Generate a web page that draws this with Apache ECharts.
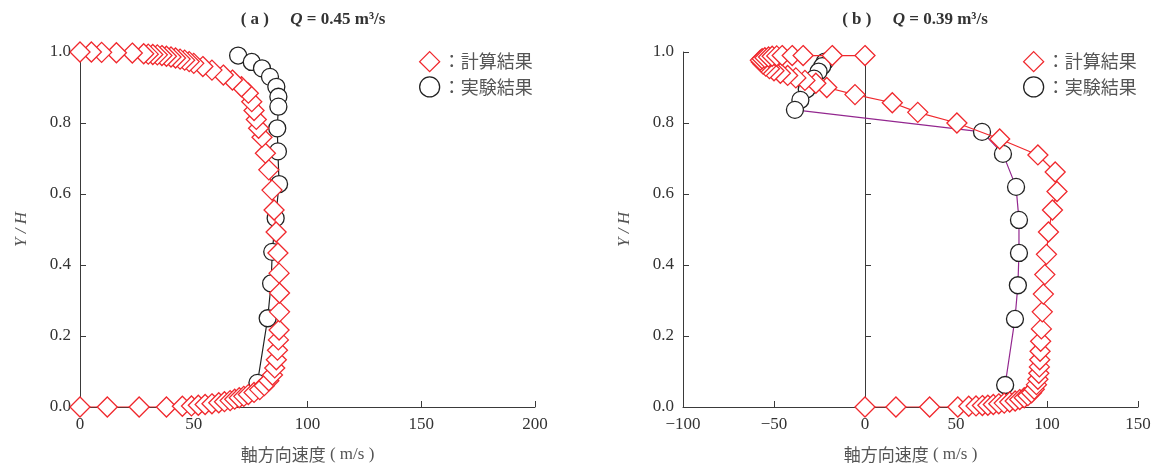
<!DOCTYPE html>
<html>
<head>
<meta charset="utf-8">
<script src="https://cdn.jsdelivr.net/npm/echarts@6/dist/echarts.min.js"></script>
<style>
  html, body { margin: 0; padding: 0; background: #fff; }
  #chart { width: 1157px; height: 468px; }
</style>
</head>
<body>
<div id="chart"></div>
<script>
// ========== data: [axial velocity (m/s), Y/H] ==========
const calcA = [
  [0, 0], [12, 0], [26, 0], [38, 0], [45, 0.002], [49, 0.003], [52, 0.005], [55, 0.007],
  [58, 0.009], [61, 0.012], [63.5, 0.015], [66, 0.018], [68, 0.022], [70, 0.026], [72, 0.03],
  [74, 0.035], [76.5, 0.041], [79, 0.049], [81, 0.06], [83, 0.074], [84.6, 0.09], [85.6, 0.11],
  [86.3, 0.133], [86.8, 0.16], [87.2, 0.189], [87.5, 0.217], [87.7, 0.268], [87.7, 0.321],
  [87.5, 0.377], [87, 0.434], [86.2, 0.493], [85.3, 0.555], [84.4, 0.611], [83, 0.668],
  [81.5, 0.715], [80, 0.76], [78.5, 0.785], [77.5, 0.81], [76.5, 0.835], [75.5, 0.86],
  [74, 0.884], [71, 0.902], [67, 0.921], [63, 0.935], [58, 0.949], [54, 0.959], [50, 0.968],
  [48, 0.973], [46, 0.977], [44, 0.98], [42, 0.983], [40, 0.986], [38, 0.988], [36, 0.99],
  [34, 0.992], [32, 0.993], [30, 0.994], [28, 0.995], [23, 0.997], [16, 0.998], [9.5, 0.999],
  [5, 1.0], [0, 1.0]
];
const expA = [
  [69.5, 0.99], [75.5, 0.972], [80, 0.954], [83.5, 0.93], [86.3, 0.902], [87.2, 0.874],
  [87.2, 0.846], [86.7, 0.785], [87, 0.72], [87.5, 0.628], [86, 0.532], [84.5, 0.437],
  [84, 0.348], [82.5, 0.25], [78, 0.068]
];
const calcB = [
  [0, 0], [17, 0], [35.5, 0], [51, 0], [57, 0.002], [61, 0.003], [64.5, 0.004], [67.5, 0.005],
  [70.5, 0.007], [73.5, 0.009], [76.5, 0.011], [79.5, 0.014], [82.5, 0.017], [85, 0.021],
  [87.5, 0.026], [89.5, 0.032], [91.5, 0.04], [93, 0.05], [94.2, 0.063], [95, 0.078],
  [95.5, 0.095], [95.8, 0.113], [96, 0.133], [96.2, 0.157], [96.5, 0.185], [96.9, 0.22],
  [97.4, 0.268], [98, 0.318], [98.8, 0.373], [99.7, 0.43], [100.8, 0.493], [103, 0.555],
  [105.5, 0.607], [104.5, 0.662], [95, 0.71], [74, 0.755], [50.5, 0.8], [29, 0.83],
  [15, 0.857], [-5.5, 0.88], [-21, 0.9], [-27, 0.912], [-33, 0.92], [-38, 0.927],
  [-42.5, 0.934], [-46.5, 0.94], [-50, 0.947], [-52.5, 0.953], [-54.5, 0.96], [-56, 0.966],
  [-57, 0.972], [-57.5, 0.977], [-56.5, 0.981], [-55, 0.984], [-53, 0.986], [-51, 0.988],
  [-48.5, 0.989], [-45.5, 0.99], [-40, 0.99], [-34, 0.99], [-18, 0.99], [0, 0.99]
];
const expB = [
  [-22, 0.973], [-23.5, 0.96], [-25.5, 0.945], [-28, 0.925], [-32, 0.895], [-35.5, 0.865],
  [-38.5, 0.837], [64.3, 0.775], [75.8, 0.713], [83, 0.62], [84.6, 0.527], [84.6, 0.434],
  [84, 0.343], [82.4, 0.248], [77, 0.062]
];
const xTicksA = { min: 0, max: 200, interval: 50 };
const xTicksB = { min: -100, max: 150, interval: 50 };
const yTicks = { min: 0, max: 1, interval: 0.2 };
const seriesNames = ['計算結果', '実験結果'];

// ========== styles ==========
const COLORS = {
  red: '#f0282d',
  black: '#222222',
  purple: '#93278f',
  axis: '#3a3a3a',
  text: '#333333',
  cjk: '#555555'
};
const SERIF = '"Liberation Serif", "DejaVu Serif", serif';
const CJK = '"Noto Sans CJK JP", "Noto Sans CJK SC", sans-serif';

const chart = echarts.init(document.getElementById('chart'));

function makeXAxis(gridIndex, t) {
  return {
    type: 'value', gridIndex: gridIndex, min: t.min, max: t.max, interval: t.interval,
    axisLine: { show: true, onZero: false, lineStyle: { color: COLORS.axis, width: 1 } },
    axisTick: { show: true, inside: true, length: 6, lineStyle: { color: COLORS.axis } },
    splitLine: { show: false },
    axisLabel: {
      color: COLORS.text, fontFamily: SERIF, fontSize: 17, margin: 9,
      formatter: v => String(v).replace('-', '\u2212')
    },
    name: '{c|軸方向速度}{s| ( m/s )}',
    nameLocation: 'middle', nameGap: 39,
    nameTextStyle: {
      rich: {
        c: { fontFamily: CJK, fontSize: 17, color: COLORS.cjk },
        s: { fontFamily: SERIF, fontSize: 17, color: COLORS.cjk }
      }
    }
  };
}

function makeYAxis(gridIndex) {
  return {
    type: 'value', gridIndex: gridIndex, min: yTicks.min, max: yTicks.max, interval: yTicks.interval,
    axisLine: { show: true, onZero: false, lineStyle: { color: COLORS.axis, width: 1 } },
    axisTick: { show: true, inside: true, length: 6, lineStyle: { color: COLORS.axis } },
    splitLine: { show: false },
    axisLabel: {
      color: COLORS.text, fontFamily: SERIF, fontSize: 17, margin: 9,
      formatter: v => v.toFixed(1)
    },
    name: 'Y / H', nameLocation: 'middle', nameGap: 50, nameRotate: 90,
    nameTextStyle: { fontFamily: SERIF, fontStyle: 'italic', fontSize: 17, color: COLORS.cjk }
  };
}

function calcSeries(xi, data) {
  return {
    name: seriesNames[0], type: 'line', xAxisIndex: xi, yAxisIndex: xi, data: data,
    symbol: 'diamond', symbolSize: [20, 20], showAllSymbol: true, animation: false,
    lineStyle: { color: COLORS.red, width: 1.2 },
    itemStyle: { color: '#fff', borderColor: COLORS.red, borderWidth: 1.3 },
    z: 3
  };
}

function expSeries(xi, data, lineColor) {
  return {
    name: seriesNames[1], type: 'line', xAxisIndex: xi, yAxisIndex: xi, data: data,
    symbol: 'circle', symbolSize: 17, showAllSymbol: true, animation: false,
    lineStyle: { color: lineColor, width: 1.2 },
    itemStyle: { color: '#fff', borderColor: COLORS.black, borderWidth: 1.3 },
    z: 2
  };
}

function makeLegend(left) {
  return {
    left: left, top: 46, orient: 'vertical', itemWidth: 20, itemHeight: 20, itemGap: 4,
    selectedMode: false,
    formatter: '：{name}',
    textStyle: { fontFamily: CJK, fontSize: 18, color: COLORS.cjk, padding: [0, 0, 0, -2] },
    data: [
      { name: seriesNames[0], icon: 'diamond',
        itemStyle: { color: '#fff', borderColor: COLORS.red, borderWidth: 1.3 } },
      { name: seriesNames[1], icon: 'circle',
        itemStyle: { color: '#fff', borderColor: COLORS.black, borderWidth: 1.3 } }
    ]
  };
}

function makeTitle(center, tag, q) {
  return {
    left: center, top: 6, textAlign: 'center',
    text: '{b|( ' + tag + ' )     }{q|Q}{b| = ' + q + ' m³/s}',
    textStyle: {
      rich: {
        b: { fontFamily: SERIF, fontWeight: 'bold', fontSize: 17, color: COLORS.text },
        q: { fontFamily: SERIF, fontWeight: 'bold', fontStyle: 'italic', fontSize: 17, color: COLORS.text }
      }
    }
  };
}

// extra y axis sitting on v = 0 in panel (b)
const zeroAxisB = {
  type: 'value', gridIndex: 1, min: yTicks.min, max: yTicks.max, interval: yTicks.interval,
  position: 'left',
  axisLine: { show: true, onZero: true, lineStyle: { color: COLORS.axis, width: 1 } },
  axisTick: { show: true, inside: true, length: 6, lineStyle: { color: COLORS.axis } },
  axisLabel: { show: false }, splitLine: { show: false }
};

const option = {
  backgroundColor: '#fff',
  animation: false,
  title: [makeTitle(308, 'a', '0.45'), makeTitle(910, 'b', '0.39')],
  legend: [makeLegend(414), makeLegend(1018)],
  grid: [
    { left: 80, top: 52, width: 455, height: 355 },
    { left: 683, top: 52, width: 455, height: 355 }
  ],
  xAxis: [makeXAxis(0, xTicksA), makeXAxis(1, xTicksB)],
  yAxis: [makeYAxis(0), makeYAxis(1), zeroAxisB],
  series: [
    expSeries(0, expA, COLORS.black),
    calcSeries(0, calcA),
    expSeries(1, expB, COLORS.purple),
    calcSeries(1, calcB)
  ]
};
chart.setOption(option);
</script>
</body>
</html>
